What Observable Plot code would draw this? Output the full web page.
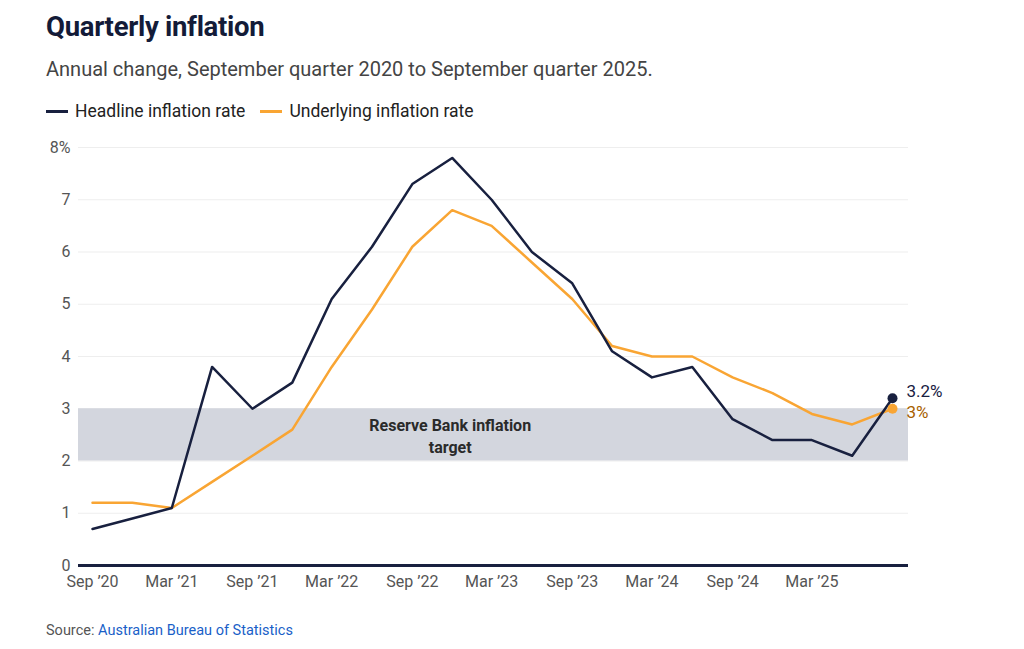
<!DOCTYPE html>
<html><head><meta charset="utf-8">
<script src="https://cdn.jsdelivr.net/npm/d3@7"></script>
<script src="https://cdn.jsdelivr.net/npm/@observablehq/plot@0.6"></script>
<style>
body{margin:0;background:#fff;font-family:Roboto,"Noto Sans",sans-serif;color:#1a2340;}
#wrap{position:relative;width:1024px;height:649px;}
h1{position:absolute;left:46px;top:10px;margin:0;font-size:27.5px;font-weight:700;color:#131b38;letter-spacing:-0.3px;}
.sub{position:absolute;left:46px;top:57px;font-size:20px;color:#444;}
.legend{position:absolute;left:46px;top:101px;font-size:17.5px;color:#222;display:flex;align-items:center;}
.legend span.sw{display:inline-block;width:22px;height:3px;margin-right:7px;}
.legend .item{display:flex;align-items:center;margin-right:15px;}
.src{position:absolute;left:46px;top:622px;font-size:14.5px;color:#555;}
.src a{color:#1a5fc8;text-decoration:none;}
#chart{position:absolute;left:0;top:130px;}
</style></head>
<body><div id="wrap">
<h1>Quarterly inflation</h1>
<div class="sub">Annual change, September quarter 2020 to September quarter 2025.</div>
<div class="legend">
 <div class="item"><span class="sw" style="background:#18203f"></span>Headline inflation rate</div>
 <div class="item"><span class="sw" style="background:#f9a533"></span>Underlying inflation rate</div>
</div>
<div id="chart"></div>
<div class="src">Source: <a href="#">Australian Bureau of Statistics</a></div>
</div>
<script>
const quarters = ["2020-09","2020-12","2021-03","2021-06","2021-09","2021-12","2022-03","2022-06","2022-09","2022-12","2023-03","2023-06","2023-09","2023-12","2024-03","2024-06","2024-09","2024-12","2025-03","2025-06","2025-09"];
const headline = [0.7,0.9,1.1,3.8,3.0,3.5,5.1,6.1,7.3,7.8,7.0,6.0,5.4,4.1,3.6,3.8,2.8,2.4,2.4,2.1,3.2];
const underlying = [1.2,1.2,1.1,1.6,2.1,2.6,3.8,4.9,6.1,6.8,6.5,5.8,5.1,4.2,4.0,4.0,3.6,3.3,2.9,2.7,3.0];
const tickQuarters = ["2020-09","2021-03","2021-09","2022-03","2022-09","2023-03","2023-09","2024-03","2024-09","2025-03"];
const yTicks = [0,1,2,3,4,5,6,7,8];
const targetBand = [{lo:2, hi:3, label:"Reserve Bank inflation\ntarget", at:"2022-12", mid:2.5}];
const headLabel = [{q:"2025-09", v:3.2, text:"3.2%"}];
const undLabel = [{q:"2025-09", v:3.0, text:"3%"}];

const parse = d3.utcParse("%Y-%m");
const months = ["Jan","Feb","Mar","Apr","May","Jun","Jul","Aug","Sep","Oct","Nov","Dec"];
const fmt = d => `${months[d.getUTCMonth()]} \u2019${String(d.getUTCFullYear()).slice(2)}`;
const headRows = quarters.map((q,i)=>({date:parse(q), v:headline[i]}));
const undRows = quarters.map((q,i)=>({date:parse(q), v:underlying[i]}));
const NAVY="#18203f", ORANGE="#f9a533";

const plot = Plot.plot({
  width:1024, height:470,
  marginLeft:78, marginRight:116, marginTop:17, marginBottom:35,
  style:{fontFamily:"Roboto, 'Noto Sans', sans-serif", fontSize:"16px", color:"#555", background:"transparent", overflow:"visible"},
  x:{type:"utc", domain:[parse(quarters[0]), parse(quarters[quarters.length-1])], range:[92,892], ticks:tickQuarters.map(parse), tickFormat:fmt, tickSize:0, tickPadding:10, label:null},
  y:{domain:[0,8], ticks:yTicks, tickFormat:d=>d===8?"8%":String(d), tickSize:0, tickPadding:8, label:null, grid:true},
  marks:[
    Plot.rect(targetBand,{y1:"lo", y2:"hi", fill:"#d3d6de"}),
    Plot.text(targetBand,{x:d=>parse(d.at), y:"mid", text:"label", fontWeight:700, fontSize:16, fill:"#2a2a2a", lineHeight:1.35, dx:-2}),
    Plot.ruleY([0],{stroke:NAVY, strokeWidth:3}),
    Plot.line(undRows,{x:"date", y:"v", stroke:ORANGE, strokeWidth:2.5}),
    Plot.line(headRows,{x:"date", y:"v", stroke:NAVY, strokeWidth:2.5}),
    Plot.dot([undRows[undRows.length-1]],{x:"date", y:"v", r:5, fill:ORANGE}),
    Plot.dot([headRows[headRows.length-1]],{x:"date", y:"v", r:5, fill:NAVY}),
    Plot.text(headLabel,{x:d=>parse(d.q), y:"v", text:"text", dx:14, dy:-7, textAnchor:"start", fontSize:17, fill:NAVY}),
    Plot.text(undLabel,{x:d=>parse(d.q), y:"v", text:"text", dx:14, dy:4, textAnchor:"start", fontSize:17, fill:"#a85f00"})
  ]
});
document.getElementById("chart").appendChild(plot);
</script>
</body></html>
